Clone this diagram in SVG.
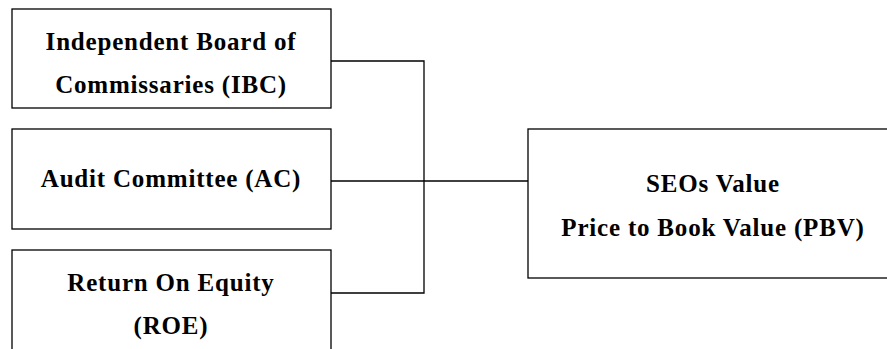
<svg xmlns="http://www.w3.org/2000/svg" width="887" height="349" viewBox="0 0 887 349">
<style>
.box{fill:#fff;stroke:#000;stroke-width:1.3}
.t{font-family:'Liberation Serif','Times New Roman',serif;font-weight:bold;font-size:25px;letter-spacing:0.8px;fill:#000;text-anchor:middle}
.c{fill:none;stroke:#000;stroke-width:1.3}
</style>
<rect width="887" height="349" fill="#fff"/>
<g id="connectors">
<polyline class="c" points="331,61 424,61 424,293 331,293"/>
<line class="c" x1="331" y1="181" x2="528" y2="181"/>
</g>
<g id="ibc">
<rect class="box" x="12" y="9" width="319" height="99"/>
<text class="t" x="171" y="49.5">Independent Board of</text>
<text class="t" x="171" y="92.5">Commissaries (IBC)</text>
</g>
<g id="ac">
<rect class="box" x="12" y="129" width="319" height="100"/>
<text class="t" x="171" y="187">Audit Committee (AC)</text>
</g>
<g id="roe">
<rect class="box" x="12" y="250" width="319" height="120"/>
<text class="t" x="171" y="290.5">Return On Equity</text>
<text class="t" x="171" y="333.5">(ROE)</text>
</g>
<g id="pbv">
<rect class="box" x="528" y="129" width="370" height="149"/>
<text class="t" x="713" y="192">SEOs Value</text>
<text class="t" x="713" y="236">Price to Book Value (PBV)</text>
</g>
</svg>
